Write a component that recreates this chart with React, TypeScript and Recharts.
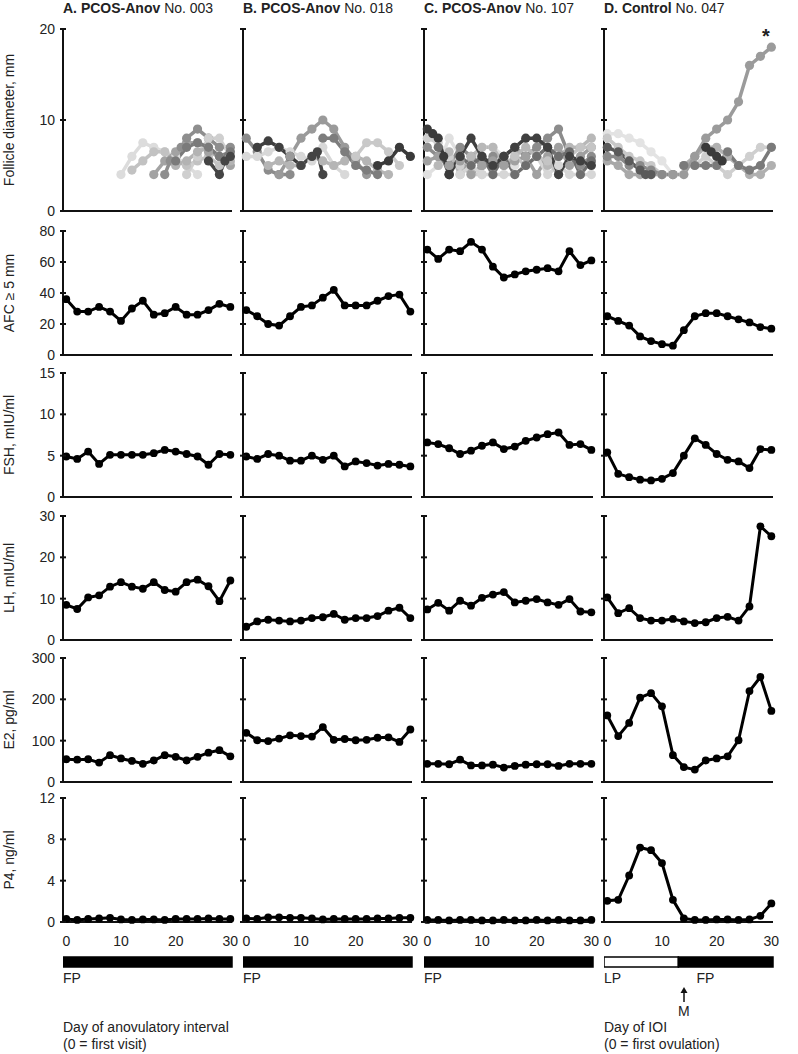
import React from 'react';
import { LineChart, Line, XAxis, YAxis, ReferenceArea } from 'recharts';

// sampling days (every 2nd day)
const days = [0, 2, 4, 6, 8, 10, 12, 14, 16, 18, 20, 22, 24, 26, 28, 30];
const dayTicks = [0, 10, 20, 30];

// AFC >= 5 mm
const afcA = [36, 28, 28, 31, 28, 22, 30, 35, 26, 27, 31, 26, 26, 29, 33, 31];
const afcB = [29, 25, 20, 19, 25, 31, 32, 37, 42, 32, 32, 32, 35, 38, 39, 28];
const afcC = [68, 62, 68, 67, 73, 68, 57, 50, 52, 54, 55, 56, 54, 67, 58, 61];
const afcD = [25, 22, 19, 12, 9, 7, 6, 16, 25, 27, 27, 25, 23, 21, 18, 17];

// FSH, mIU/ml
const fshA = [4.9, 4.6, 5.5, 4.0, 5.1, 5.1, 5.1, 5.1, 5.3, 5.7, 5.5, 5.2, 4.9, 3.9, 5.2, 5.1];
const fshB = [4.9, 4.6, 5.2, 5.0, 4.4, 4.4, 5.0, 4.5, 5.0, 3.7, 4.3, 4.1, 3.8, 4.0, 3.9, 3.7];
const fshC = [6.6, 6.4, 5.9, 5.2, 5.6, 6.2, 6.6, 5.8, 6.1, 6.8, 7.2, 7.6, 7.8, 6.3, 6.4, 5.7];
const fshD = [5.4, 2.8, 2.4, 2.1, 2.0, 2.2, 2.9, 5.0, 7.1, 6.3, 5.2, 4.5, 4.3, 3.5, 5.8, 5.7];

// LH, mIU/ml
const lhA = [8.5, 7.5, 10.3, 10.8, 12.9, 14.0, 12.9, 12.4, 14.0, 12.1, 11.7, 14.0, 14.6, 13.0, 9.4, 14.4];
const lhB = [3.2, 4.5, 4.9, 4.7, 4.5, 4.7, 5.3, 5.5, 6.3, 4.9, 5.3, 5.3, 5.8, 7.1, 7.8, 5.3];
const lhC = [7.4, 9.0, 7.1, 9.5, 8.3, 10.2, 11.0, 11.6, 9.1, 9.5, 9.9, 9.1, 8.5, 9.9, 6.9, 6.7];
const lhD = [10.3, 6.5, 7.7, 5.3, 4.7, 4.7, 5.1, 4.5, 4.1, 4.3, 5.3, 5.6, 4.7, 8.1, 27.5, 25.1];

// E2, pg/ml
const e2A = [55, 54, 55, 47, 65, 57, 51, 44, 52, 65, 61, 52, 61, 71, 77, 62];
const e2B = [119, 101, 99, 105, 113, 111, 110, 133, 102, 104, 101, 102, 107, 108, 97, 127];
const e2C = [44, 44, 43, 54, 40, 40, 42, 35, 39, 42, 43, 43, 39, 44, 44, 44];
const e2D = [161, 111, 143, 204, 215, 183, 65, 36, 30, 52, 57, 62, 101, 220, 254, 172];

// P4, ng/ml
const p4A = [0.3, 0.2, 0.3, 0.35, 0.4, 0.25, 0.2, 0.25, 0.25, 0.2, 0.3, 0.3, 0.3, 0.35, 0.3, 0.3];
const p4B = [0.35, 0.3, 0.45, 0.45, 0.4, 0.4, 0.35, 0.25, 0.3, 0.3, 0.3, 0.3, 0.35, 0.35, 0.4, 0.4];
const p4C = [0.2, 0.2, 0.15, 0.2, 0.2, 0.15, 0.15, 0.2, 0.15, 0.15, 0.2, 0.15, 0.2, 0.15, 0.15, 0.2];
const p4D = [2.05, 2.15, 4.5, 7.2, 6.95, 5.7, 2.15, 0.35, 0.2, 0.2, 0.25, 0.25, 0.2, 0.25, 0.6, 1.8];

// individual follicles: [day, diameter mm]
type Pt = [number, number];
const follA: Pt[][] = [
  [[10, 4], [12, 6], [14, 7.5], [16, 7], [18, 6.5], [20, 6], [22, 5], [24, 4]],
  [[12, 4.5], [14, 5.5], [16, 6.5], [18, 6.5], [20, 5.5], [22, 5], [24, 5.5], [26, 6], [28, 5]],
  [[16, 4], [18, 5.5], [20, 6.5], [22, 7.5], [24, 7.5], [26, 6.5], [28, 6], [30, 5]],
  [[18, 4], [19, 5.5], [21, 7], [22, 8], [24, 9], [26, 8], [28, 7], [30, 7]],
  [[22, 4], [24, 6], [26, 8], [28, 8], [30, 6]],
  [[20, 5], [22, 5.5], [24, 6.5], [26, 7], [28, 6], [30, 5.5]],
  [[20, 5.5], [22, 7], [24, 7.5], [26, 7], [28, 6], [30, 6.5]],
  [[26, 5.5], [28, 4], [29, 5.5], [30, 6]],
];
const follB: Pt[][] = [
  [[0, 8], [2, 6.5], [4, 4.5], [6, 4], [8, 4]],
  [[0, 6], [2, 6], [4, 6.5], [6, 7], [8, 6.5], [10, 6], [12, 5.5], [14, 7], [16, 5], [18, 4]],
  [[2, 7], [4, 7.7], [6, 7], [8, 6], [10, 5]],
  [[6, 4], [8, 6], [10, 8], [12, 9], [14, 10], [16, 9], [18, 7], [20, 5.5], [22, 4]],
  [[4, 5], [6, 5.5], [8, 5], [10, 5], [12, 6], [14, 5.5], [16, 5], [18, 5.5], [20, 6], [22, 5.5], [24, 4.5], [26, 4]],
  [[10, 5], [12, 6], [13, 6.5], [14, 4]],
  [[14, 8], [16, 8], [18, 6.5], [20, 5], [22, 4.5], [24, 4]],
  [[20, 6], [22, 7.5], [24, 7.5], [26, 6.5], [28, 5]],
  [[24, 5], [26, 5.5], [28, 7], [30, 6]],
];
const follC: Pt[][] = [
  [[0, 8], [2, 7.5], [4, 6], [6, 5], [8, 4], [10, 4]],
  [[0, 4], [2, 5], [4, 8], [6, 6], [8, 5], [10, 7], [12, 7], [14, 6], [16, 5]],
  [[0, 7], [2, 6], [4, 5], [6, 7], [8, 6], [10, 5], [12, 6], [14, 6], [16, 7], [18, 6], [20, 7], [22, 8], [24, 9], [26, 6], [28, 5], [30, 6]],
  [[2, 5], [4, 6.5], [6, 4], [8, 6], [10, 7], [12, 7], [14, 5], [16, 6], [18, 7], [20, 6], [22, 5], [24, 6], [26, 7], [28, 7], [30, 8]],
  [[0, 5.5], [2, 6], [4, 5], [6, 5.5], [8, 4], [10, 5], [12, 5.5], [14, 5], [16, 5.5], [18, 6], [20, 4], [22, 6], [24, 7], [26, 5], [28, 6], [30, 7]],
  [[6, 4], [8, 5], [10, 4], [12, 4], [14, 4], [16, 4], [18, 5], [20, 6], [22, 4], [24, 5], [26, 4], [28, 4], [30, 4]],
  [[16, 6], [18, 5], [20, 6], [22, 5.5], [24, 4], [26, 6], [28, 7], [30, 7]],
  [[2, 7], [4, 4], [6, 6], [8, 5], [10, 6], [12, 4], [14, 6], [16, 4], [18, 5], [20, 6], [22, 7], [24, 6], [26, 6.5], [28, 4], [30, 5.5]],
  [[4, 4], [6, 6], [8, 8], [10, 6], [12, 5], [14, 6], [16, 7], [18, 8], [20, 8], [22, 7], [24, 4], [26, 6], [28, 5.5], [30, 5]],
  [[0, 9], [1, 8.5], [2, 8], [3, 6], [4, 4]],
];
const follD: Pt[][] = [
  [[0, 8.5], [2, 8.5], [4, 8], [6, 7.5], [8, 6.5], [10, 5.5], [12, 4], [14, 4]],
  [[0, 8], [2, 7], [4, 6], [6, 5.5], [8, 5], [10, 4], [12, 4]],
  [[0, 5.5], [2, 5], [4, 4], [6, 4], [8, 4], [10, 4]],
  [[0, 6], [2, 6], [4, 5], [6, 5], [8, 4.5], [10, 4], [12, 4]],
  [[0, 7], [2, 6.5], [4, 5.5], [6, 4.5], [7, 4], [8, 4]],
  [[16, 5], [18, 6], [20, 5], [22, 4], [24, 5], [26, 6], [28, 7], [30, 7]],
  [[14, 5], [16, 6], [18, 7], [20, 7], [22, 6], [24, 5], [26, 4], [28, 4], [30, 5]],
  [[14, 5], [16, 5], [18, 5], [20, 5], [22, 6.5], [24, 5], [26, 4.5], [28, 5], [30, 7]],
  [[18, 7], [19, 6.5], [20, 6], [21, 5.5]],
  [[12, 4], [14, 4], [16, 6], [18, 8], [20, 9], [22, 10], [24, 12], [26, 16], [28, 17], [30, 18]],
];

const titles = [
  ['A. PCOS-Anov', 'No. 003'],
  ['B. PCOS-Anov', 'No. 018'],
  ['C. PCOS-Anov', 'No. 107'],
  ['D. Control', 'No. 047'],
];

const rowLabels = ['Follicle diameter, mm', 'AFC \u2265 5 mm', 'FSH, mIU/ml', 'LH, mIU/ml', 'E2, pg/ml', 'P4, ng/ml'];

// cycle phases under each column
const DAY_MIN = -0.6;
const DAY_MAX = 30.3;
const phases = [
  [{ phase: 'FP', from: DAY_MIN, to: DAY_MAX }],
  [{ phase: 'FP', from: DAY_MIN, to: DAY_MAX }],
  [{ phase: 'FP', from: DAY_MIN, to: DAY_MAX }],
  [{ phase: 'LP', from: DAY_MIN, to: 13 }, { phase: 'FP', from: 13, to: DAY_MAX }],
];
const mensesDay = 14;

// shades for follicle lines
const SHADES: string[][] = [
  ['#dcdcdc', '#c2c2c2', '#a3a3a3', '#8e8e8e', '#cfcfcf', '#b3b3b3', '#7a7a7a', '#454545'],
  ['#8c8c8c', '#d8d8d8', '#3f3f3f', '#9a9a9a', '#b5b5b5', '#444444', '#7d7d7d', '#c9c9c9', '#3a3a3a'],
  ['#cfcfcf', '#e0e0e0', '#8c8c8c', '#b8b8b8', '#a0a0a0', '#d6d6d6', '#c4c4c4', '#6e6e6e', '#404040', '#3a3a3a'],
  ['#e3e3e3', '#c8c8c8', '#a8a8a8', '#8a8a8a', '#5a5a5a', '#cfcfcf', '#b0b0b0', '#7a7a7a', '#3a3a3a', '#9b9b9b'],
];

// layout
const COL_X = [63, 243, 424, 604];
const PLOT_W = 169;
const Y_AXIS_W = 45;
const MARGIN = { top: 12, right: 14, bottom: 0, left: 0 };
const ROW_GEOM = [
  { top: 29, h: 182 },
  { top: 231, h: 124 },
  { top: 373, h: 124 },
  { top: 516, h: 124 },
  { top: 658, h: 124 },
  { top: 798, h: 124 },
];
const INK = '#111';
const TEXT = '#222';
const axisStyle = { stroke: INK, strokeWidth: 2 };

const dayX = (col: number, d: number) =>
  COL_X[col] + ((d - DAY_MIN) / (DAY_MAX - DAY_MIN)) * PLOT_W;

const hormoneRows = [
  { max: 80, ticks: [0, 20, 40, 60, 80], series: [afcA, afcB, afcC, afcD] },
  { max: 15, ticks: [0, 5, 10, 15], series: [fshA, fshB, fshC, fshD] },
  { max: 30, ticks: [0, 10, 20, 30], series: [lhA, lhB, lhC, lhD] },
  { max: 300, ticks: [0, 100, 200, 300], series: [e2A, e2B, e2C, e2D] },
  { max: 12, ticks: [0, 4, 8, 12], series: [p4A, p4B, p4C, p4D] },
];

function YTick(props: any) {
  const { x, y, payload, show } = props;
  const ax = x + 8;
  return (
    <g>
      <line x1={ax} x2={ax + 3} y1={y} y2={y} stroke={INK} strokeWidth={2} />
      {show && (
        <text x={x} y={y} dy="0.35em" textAnchor="end" fontSize={14} fill={TEXT}>
          {payload.value}
        </text>
      )}
    </g>
  );
}

type LineSpec = { data: { day: number; v: number }[]; color: string; follicle: boolean };

function Panel({ col, row, lines, max, ticks }: { col: number; row: number; lines: LineSpec[]; max: number; ticks: number[] }) {
  const g = ROW_GEOM[row];
  const bottom = row === ROW_GEOM.length - 1;
  const xh = bottom ? 30 : 12;
  return (
    <div style={{ position: 'absolute', left: COL_X[col] - Y_AXIS_W, top: g.top - MARGIN.top }}>
      <LineChart width={Y_AXIS_W + PLOT_W + MARGIN.right} height={MARGIN.top + g.h + xh} margin={MARGIN}>
        <XAxis
          type="number"
          dataKey="day"
          domain={[DAY_MIN, DAY_MAX]}
          ticks={dayTicks}
          interval={0}
          height={xh}
          axisLine={axisStyle}
          tickLine={false}
          tickSize={6}
          tickMargin={8}
          tick={bottom ? { fontSize: 14, fill: TEXT } : false}
        />
        <YAxis
          type="number"
          domain={[0, max]}
          ticks={ticks}
          interval={0}
          width={Y_AXIS_W}
          axisLine={axisStyle}
          tickLine={axisStyle}
          tickSize={3}
          tickMargin={5}
          tick={(p: any) => <YTick {...p} show={col === 0} />}
        />
        {lines.map((l, i) => (
          <Line
            key={i}
            data={l.data}
            dataKey="v"
            type="linear"
            stroke={l.color}
            strokeWidth={l.follicle ? 3.5 : 3}
            dot={{ r: l.follicle ? 4.6 : 3.9, fill: l.color, stroke: 'none' }}
            isAnimationActive={false}
          />
        ))}
      </LineChart>
    </div>
  );
}

function PhaseBar({ col }: { col: number }) {
  return (
    <div style={{ position: 'absolute', left: COL_X[col], top: 955 }}>
      <LineChart
        width={PLOT_W + 2}
        height={14}
        margin={{ top: 2, right: 2, bottom: 2, left: 0 }}
        data={[{ day: DAY_MIN, v: 0 }, { day: DAY_MAX, v: 0 }]}
      >
        <XAxis type="number" dataKey="day" domain={[DAY_MIN, DAY_MAX]} hide height={0} />
        <YAxis type="number" domain={[0, 1]} hide width={0} />
        <Line dataKey="v" stroke="none" dot={false} isAnimationActive={false} />
        {phases[col].map((p, i) => (
          <ReferenceArea
            key={i}
            x1={p.from}
            x2={p.to}
            y1={0}
            y2={1}
            fill={p.phase === 'LP' ? '#fff' : '#000'}
            fillOpacity={1}
            stroke="#000"
            strokeWidth={1.5}
            ifOverflow="visible"
          />
        ))}
      </LineChart>
    </div>
  );
}

export default function App() {
  const text: React.CSSProperties = { position: 'absolute', fontSize: 14, lineHeight: '16px', whiteSpace: 'nowrap', color: TEXT };
  return (
    <div
      style={{
        position: 'absolute',
        left: 0,
        top: 0,
        width: 798,
        height: 1054,
        background: '#fff',
        fontFamily: '"Liberation Sans", Arial, sans-serif',
        color: TEXT,
        overflow: 'hidden',
      }}
    >
      {/* column titles */}
      {titles.map(([b, r], c) => (
        <div key={c} style={{ ...text, left: COL_X[c], top: 0 }}>
          <b>{b}</b> {r}
        </div>
      ))}

      {/* row labels */}
      {rowLabels.map((lab, r) => (
        <div
          key={lab}
          style={{
            ...text,
            left: 9,
            top: ROW_GEOM[r].top + ROW_GEOM[r].h / 2,
            transform: 'translate(-50%, -50%) rotate(-90deg)',
          }}
        >
          {lab}
        </div>
      ))}

      {/* follicle row */}
      {[follA, follB, follC, follD].map((foll, c) => (
        <Panel
          key={'f' + c}
          col={c}
          row={0}
          max={20}
          ticks={[0, 10, 20]}
          lines={foll.map((pts, i) => ({
            data: pts.map(([d, v]) => ({ day: d, v })),
            color: SHADES[c][i],
            follicle: true,
          }))}
        />
      ))}

      {/* hormone rows */}
      {hormoneRows.map((hr, r) =>
        hr.series.map((s, c) => (
          <Panel
            key={r + '-' + c}
            col={c}
            row={r + 1}
            max={hr.max}
            ticks={hr.ticks}
            lines={[{ data: days.map((d, i) => ({ day: d, v: s[i] })), color: '#000', follicle: false }]}
          />
        ))
      )}

      <div style={{ position: 'absolute', left: 762, top: 26, fontSize: 20, lineHeight: '20px', fontWeight: 'bold', color: TEXT }}>*</div>

      {/* phase bars */}
      {[0, 1, 2, 3].map((c) => (
        <PhaseBar key={'p' + c} col={c} />
      ))}
      {[0, 1, 2].map((c) => (
        <div key={'fp' + c} style={{ ...text, left: COL_X[c], top: 970 }}>FP</div>
      ))}
      <div style={{ ...text, left: COL_X[3], top: 970 }}>LP</div>
      <div style={{ ...text, left: dayX(3, 16.3), top: 970 }}>FP</div>

      {/* menses arrow */}
      <svg style={{ position: 'absolute', left: dayX(3, mensesDay) - 5, top: 987 }} width={10} height={15}>
        <line x1={5} x2={5} y1={4} y2={15} stroke={INK} strokeWidth={1.5} />
        <polygon points="1.5,6 5,0 8.5,6" fill={INK} />
      </svg>
      <div style={{ ...text, left: dayX(3, mensesDay), top: 1003, transform: 'translateX(-50%)' }}>M</div>

      {/* x axis captions */}
      <div style={{ ...text, left: COL_X[0], top: 1019, lineHeight: '16.5px' }}>
        Day of anovulatory interval
        <br />
        (0 = first visit)
      </div>
      <div style={{ ...text, left: COL_X[3], top: 1019, lineHeight: '16.5px' }}>
        Day of IOI
        <br />
        (0 = first ovulation)
      </div>
    </div>
  );
}
